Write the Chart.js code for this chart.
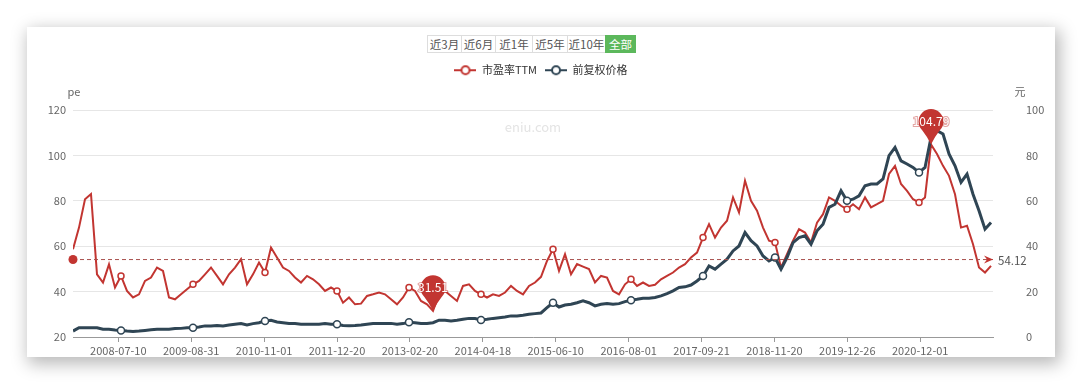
<!DOCTYPE html>
<html>
<head>
<meta charset="utf-8">
<title>市盈率TTM / 前复权价格</title>
<script src="https://cdn.jsdelivr.net/npm/chart.js"></script>
<style>
body { margin: 0; background: #fff; width: 1080px; height: 385px; overflow: hidden; font-family: "Noto Sans CJK SC", sans-serif; }
#card { position: absolute; left: 27px; top: 27px; width: 1028px; height: 330px; background: #fff; box-shadow: 3px 5px 16px 2px rgba(0,0,0,0.28); }
#myChart { position: absolute; left: 0; top: 0; display: block; }
#btns { position: absolute; left: 401px; top: 8px; display: flex; z-index: 2; }
#btns span { box-sizing: border-box; height: 18px; line-height: 16px; font-size: 11.5px; text-align: center; color: #555; border: 1px solid #ddd; margin-left: -1px; background: #fff; }
#btns span.on { background: #5cb85c; border-color: #5cb85c; color: #fff; }
</style>
</head>
<body>
<div id="card">
  <div id="btns">
    <span style="width:35px">近3月</span><span style="width:35px">近6月</span><span style="width:38px">近1年</span><span style="width:36px">近5年</span><span style="width:39px">近10年</span><span class="on" style="width:31px">全部</span>
  </div>
  <canvas id="myChart" width="1028" height="330"></canvas>
</div>
<script>
// 市盈率TTM (左轴), 取样自图
const peTTM = [
  58.7, 68.2, 80.7, 83.0, 47.6, 44.0, 52.0, 41.8, 46.9, 40.3,
  37.4, 38.8, 44.7, 46.2, 50.6, 49.1, 37.4, 36.6, 38.8, 41.0,
  43.2, 44.7, 47.6, 50.6, 46.9, 43.2, 47.6, 50.6, 54.3, 43.2,
  47.6, 52.8, 48.4, 59.4, 55.0, 50.6, 49.1, 46.2, 44.0, 46.9,
  45.4, 43.2, 40.3, 41.8, 40.3, 35.1, 37.4, 34.4, 34.7, 38.1,
  38.8, 39.6, 38.8, 36.6, 34.4, 37.4, 41.8, 40.3, 35.9, 34.4,
  31.51, 38.8, 40.3, 38.1, 35.9, 42.5, 43.2, 40.3, 38.8, 37.4,
  38.8, 38.1, 39.6, 42.5, 40.3, 38.8, 42.5, 44.0, 46.5, 53.5,
  58.7, 49.1, 56.5, 47.6, 52.1, 51.0, 49.9, 44.0, 46.9, 46.2,
  40.3, 38.8, 43.2, 45.4, 42.5, 44.0, 42.5, 43.0, 45.4, 46.9,
  48.4, 50.6, 52.1, 55.0, 57.2, 63.8, 69.7, 63.8, 68.2, 71.2,
  81.5, 74.9, 88.8, 80.0, 75.6, 68.2, 62.4, 61.6, 50.6, 56.5,
  62.4, 67.5, 66.0, 61.6, 70.4, 74.1, 81.5, 80.0, 77.8, 76.3,
  78.5, 76.3, 81.5, 77.1, 78.5, 80.0, 91.8, 95.4, 87.4, 84.4,
  80.7, 79.3, 81.5, 104.79, 100.6, 95.4, 91.0, 82.9, 68.2, 69.0,
  60.9, 50.6, 48.4, 51.3
];

// 前复权价格 (右轴, 元)
const price = [
  2.6, 4.1, 4.1, 4.1, 4.1, 3.4, 3.4, 3.1, 2.9, 2.6,
  2.4, 2.6, 2.9, 3.2, 3.4, 3.4, 3.4, 3.7, 3.8, 4.1,
  4.1, 4.4, 4.9, 4.9, 5.1, 4.9, 5.3, 5.6, 5.9, 5.3,
  5.9, 6.3, 7.1, 7.4, 6.6, 6.3, 5.9, 5.9, 5.6, 5.6,
  5.6, 5.6, 5.9, 5.6, 5.6, 5.1, 5.0, 5.1, 5.3, 5.6,
  5.9, 5.9, 5.9, 6.0, 5.6, 5.9, 6.5, 6.3, 6.0, 5.9,
  6.3, 7.4, 7.4, 7.1, 7.4, 7.8, 8.2, 8.1, 7.5, 7.8,
  8.2, 8.5, 8.8, 9.3, 9.3, 9.6, 10.0, 10.3, 10.6, 12.9,
  15.1, 13.2, 14.1, 14.4, 15.1, 15.9, 15.1, 13.7, 14.4, 14.7,
  14.4, 14.7, 15.6, 16.2, 16.6, 17.1, 17.1, 17.4, 18.1, 19.1,
  20.3, 21.8, 22.1, 22.9, 24.7, 26.9, 31.3, 29.9, 32.1, 34.3,
  37.9, 40.1, 46.0, 42.4, 40.1, 35.7, 33.5, 35.0, 29.9, 35.0,
  41.6, 43.8, 44.6, 40.9, 46.8, 49.7, 57.1, 58.5, 64.4, 60.0,
  60.7, 62.2, 66.6, 67.4, 67.4, 69.6, 79.9, 83.5, 77.6, 76.2,
  74.7, 72.5, 74.7, 87.9, 90.9, 89.4, 80.6, 75.4, 68.1, 71.8,
  62.9, 55.6, 47.5, 50.4
];

// x 轴日期标签及其所在取样位置
const dateLabels = ['2008-07-10', '2009-08-31', '2010-11-01', '2011-12-20', '2013-02-20', '2014-04-18',
  '2015-06-10', '2016-08-01', '2017-09-21', '2018-11-20', '2019-12-26', '2020-12-01'];
const dateIdx = [7.55, 19.7, 31.85, 44.0, 56.15, 68.3, 80.45, 92.6, 104.75, 116.9, 129.05, 141.2];
const lastIdx = 153.33;

const avgPe = 54.12;

const RED = '#c23531';
const DARK = '#2f4554';
const FONT = '"Noto Sans CJK SC", "Microsoft YaHei", sans-serif';

const symbolIdx = dateIdx.map(Math.round);

function legendIcon(color) {
    const c = document.createElement('canvas');
    c.width = 22; c.height = 12;
    const g = c.getContext('2d');
    g.strokeStyle = color;
    g.lineWidth = 2;
    g.beginPath(); g.moveTo(0, 6); g.lineTo(22, 6); g.stroke();
    g.fillStyle = '#fff';
    g.beginPath(); g.arc(11, 6, 4, 0, Math.PI * 2); g.fill(); g.stroke();
    return c;
}

function drawPin(ctx, px, py, text) {
    const r = 12.5, cy = py - 23;
    const a = Math.PI / 4;
    ctx.beginPath();
    ctx.moveTo(px, py);
    ctx.quadraticCurveTo(px + r * 0.35, cy + r * 1.15, px + r * Math.cos(a), cy + r * Math.sin(a));
    ctx.arc(px, cy, r, a, Math.PI - a, true);
    ctx.quadraticCurveTo(px - r * 0.35, cy + r * 1.15, px, py);
    ctx.fillStyle = RED;
    ctx.fill();
    ctx.font = '12px ' + FONT;
    ctx.textAlign = 'center';
    ctx.textBaseline = 'middle';
    ctx.lineWidth = 2;
    ctx.strokeStyle = 'rgba(194,53,49,0.45)';
    ctx.strokeText(text, px, cy);
    ctx.fillStyle = '#fff';
    ctx.fillText(text, px, cy);
}

// 水印, 均线, 最大最小标记, 轴名
const extras = {
    id: 'extras',
    beforeDatasetsDraw(chart) {
        const { ctx, chartArea: a } = chart;
        ctx.save();
        ctx.font = '13px ' + FONT;
        ctx.fillStyle = '#e4e4e4';
        ctx.textAlign = 'center';
        ctx.textBaseline = 'middle';
        ctx.fillText('eniu.com', (a.left + a.right) / 2, a.top + 17);
        ctx.fillStyle = '#666';
        ctx.font = '11px ' + FONT;
        ctx.fillText('pe', a.left + 1, a.top - 18);
        ctx.fillText('元', a.right + 27, a.top - 18);
        ctx.restore();
    },
    afterDatasetsDraw(chart) {
        const { ctx, chartArea: a, scales: { x, y } } = chart;
        const ay = y.getPixelForValue(avgPe);
        ctx.save();
        ctx.strokeStyle = '#a8504d';
        ctx.lineWidth = 1;
        ctx.setLineDash([4, 3]);
        ctx.beginPath(); ctx.moveTo(a.left, ay); ctx.lineTo(a.right, ay); ctx.stroke();
        ctx.setLineDash([]);
        ctx.fillStyle = RED;
        ctx.beginPath(); ctx.arc(a.left, ay, 4.5, 0, Math.PI * 2); ctx.fill();
        ctx.beginPath();
        ctx.moveTo(a.right, ay); ctx.lineTo(a.right - 9, ay - 4); ctx.lineTo(a.right - 6, ay); ctx.lineTo(a.right - 9, ay + 4);
        ctx.closePath(); ctx.fill();
        ctx.fillStyle = '#555';
        ctx.font = '11.5px ' + FONT;
        ctx.textAlign = 'left';
        ctx.textBaseline = 'middle';
        ctx.fillText(avgPe.toFixed(2), a.right + 5, ay + 1);

        const maxV = Math.max(...peTTM), minV = Math.min(...peTTM);
        const iMax = peTTM.indexOf(maxV), iMin = peTTM.indexOf(minV);
        drawPin(ctx, x.getPixelForValue(iMin), y.getPixelForValue(minV), minV.toFixed(2));
        drawPin(ctx, x.getPixelForValue(iMax), y.getPixelForValue(maxV), maxV.toFixed(2));
        ctx.restore();
    }
};

const ctx = document.getElementById('myChart').getContext('2d');

new Chart(ctx, {
    type: 'line',
    data: {
        datasets: [{
            label: '市盈率TTM',
            data: peTTM.map((v, i) => ({ x: i, y: v })),
            yAxisID: 'y',
            borderColor: RED,
            borderWidth: 2,
            pointRadius: c => symbolIdx.includes(c.dataIndex) ? 3 : 0,
            pointBackgroundColor: '#fff',
            pointBorderColor: RED,
            pointBorderWidth: 1.5,
            tension: 0,
            order: 2
        }, {
            label: '前复权价格',
            data: price.map((v, i) => ({ x: i, y: v })),
            yAxisID: 'y1',
            borderColor: DARK,
            borderWidth: 3,
            pointRadius: c => symbolIdx.includes(c.dataIndex) ? 3.5 : 0,
            pointBackgroundColor: '#fff',
            pointBorderColor: DARK,
            pointBorderWidth: 1.5,
            tension: 0,
            order: 1
        }]
    },
    options: {
        responsive: false,
        animation: false,
        events: [],
        layout: { padding: { top: 29.7, left: 0, right: 0, bottom: 0 } },
        plugins: {
            legend: {
                position: 'top',
                labels: {
                    usePointStyle: true,
                    pointStyleWidth: 22,
                    boxHeight: 12,
                    padding: 8,
                    color: '#333',
                    font: { size: 11, family: FONT },
                    sort: (a, b) => a.datasetIndex - b.datasetIndex,
                    generateLabels(chart) {
                        const items = Chart.defaults.plugins.legend.labels.generateLabels(chart);
                        items.forEach(it => {
                            it.pointStyle = legendIcon(chart.data.datasets[it.datasetIndex].borderColor);
                        });
                        return items;
                    }
                }
            },
            subtitle: {
                display: true,
                text: '',
                weight: 500,
                font: { size: 10 },
                padding: { top: 0, bottom: 12.3 }
            },
            tooltip: { enabled: false }
        },
        scales: {
            x: {
                type: 'linear',
                min: 0,
                max: lastIdx,
                afterBuildTicks: s => { s.ticks = dateIdx.map(v => ({ value: v })); },
                afterFit: s => { s.height = 20; },
                grid: { drawOnChartArea: false, drawTicks: true, tickLength: 5, color: '#999' },
                border: { color: '#999' },
                ticks: {
                    autoSkip: false,
                    maxRotation: 0,
                    padding: 2,
                    color: '#666',
                    font: { size: 11, family: FONT },
                    callback: (v, i) => dateLabels[i]
                }
            },
            y: {
                position: 'left',
                min: 20,
                max: 120,
                afterFit: s => { s.width = 46; },
                grid: { color: '#e6e6e6', drawTicks: false },
                border: { display: false },
                ticks: { stepSize: 20, padding: 7, color: '#666', font: { size: 11, family: FONT } }
            },
            y1: {
                position: 'right',
                min: 0,
                max: 100,
                afterFit: s => { s.width = 62; },
                grid: { drawOnChartArea: false, drawTicks: true, tickLength: 30, tickColor: 'rgba(0,0,0,0)' },
                border: { display: false },
                ticks: { stepSize: 20, padding: 3, color: '#666', font: { size: 11, family: FONT } }
            }
        }
    },
    plugins: [extras]
});
</script>
</body>
</html>
